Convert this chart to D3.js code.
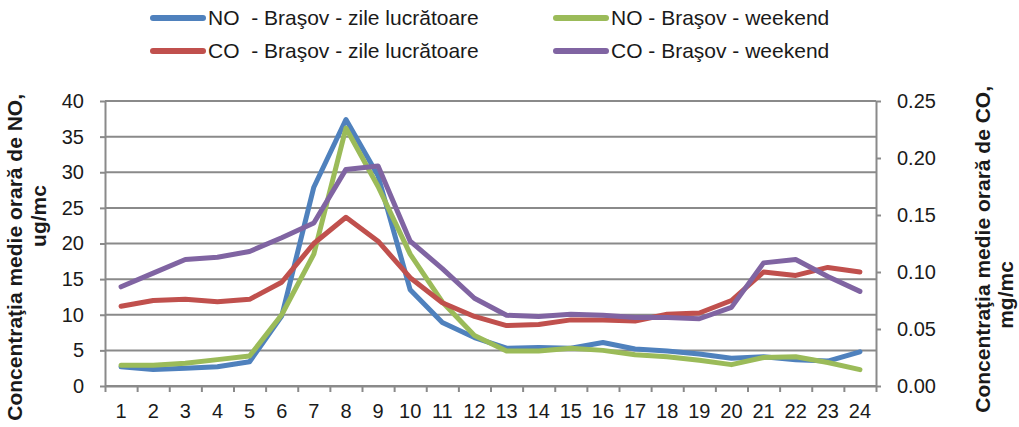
<!DOCTYPE html>
<html>
<head>
<meta charset="utf-8">
<script src="https://cdn.jsdelivr.net/npm/d3@7"></script>
<style>
  body { margin: 0; background: #fff; }
  text { font-family: "Liberation Sans", Arial, sans-serif; fill: #1a1a1a; }
</style>
</head>
<body>
<div class="chart"></div>
<script>
// Concentratii medii orare NO / CO - Brasov

var hours = d3.range(1, 25).map(String);

var noWorkdays = [2.7, 2.3, 2.5, 2.7, 3.4, 9.8, 27.9, 37.4, 29.5, 13.5, 8.9, 6.8, 5.3, 5.4, 5.3, 6.1, 5.2, 4.9, 4.5, 3.9, 4.1, 3.7, 3.5, 4.8];
var noWeekend = [2.9, 2.9, 3.2, 3.7, 4.2, 10.0, 18.5, 36.2, 28.0, 18.5, 11.8, 7.1, 4.9, 4.9, 5.3, 5.0, 4.4, 4.1, 3.6, 3.0, 4.0, 4.1, 3.3, 2.3];
var coWorkdays = [0.070, 0.075, 0.076, 0.074, 0.076, 0.091, 0.125, 0.148, 0.127, 0.095, 0.073, 0.061, 0.053, 0.054, 0.058, 0.058, 0.057, 0.063, 0.064, 0.075, 0.100, 0.097, 0.104, 0.100];
var coWeekend = [0.087, 0.099, 0.111, 0.113, 0.118, 0.130, 0.143, 0.190, 0.193, 0.127, 0.103, 0.077, 0.062, 0.061, 0.063, 0.062, 0.060, 0.060, 0.059, 0.069, 0.108, 0.111, 0.096, 0.083];

var leftTicks = [0, 5, 10, 15, 20, 25, 30, 35, 40];
var rightTicks = [0, 0.05, 0.10, 0.15, 0.20, 0.25];

var seriesNames = [
  "NO  - Braşov - zile lucrătoare",
  "NO - Braşov - weekend",
  "CO  - Braşov - zile lucrătoare",
  "CO - Braşov - weekend"
];
var seriesColors = ["#4F81BD", "#9BBB59", "#C0504D", "#8064A2"];

var svgWidth = 1019;
var svgHeight = 427;
var margin = { top: 101, right: 143, bottom: 41, left: 105 };
var width = svgWidth - margin.left - margin.right;
var height = svgHeight - margin.top - margin.bottom;

var svg = d3.select(".chart")
  .append("svg")
  .attr("width", svgWidth)
  .attr("height", svgHeight);

var chart = svg.append("g")
  .attr("transform", "translate(" + margin.left + "," + margin.top + ")");

var xScale = d3.scaleBand().domain(hours).range([0, width]).padding(0);
var xEdges = d3.scaleLinear().domain([0, 24]).range([0, width]);
var yLeft = d3.scaleLinear().domain([0, 40]).range([height, 0]);
var yRight = d3.scaleLinear().domain([0, 0.25]).range([height, 0]);

var grey = "#8a8a8a";

// gridlines
chart.append("g")
  .selectAll("line")
  .data(leftTicks)
  .enter().append("line")
  .attr("x1", 0)
  .attr("x2", width)
  .attr("y1", function(d) { return yLeft(d); })
  .attr("y2", function(d) { return yLeft(d); })
  .attr("stroke", grey)
  .attr("stroke-width", 2);

// axes
var leftAxis = chart.append("g")
  .call(d3.axisLeft(yLeft).tickValues(leftTicks).tickSize(5).tickSizeOuter(0).tickPadding(16));

var rightAxis = chart.append("g")
  .attr("transform", "translate(" + width + ",0)")
  .call(d3.axisRight(yRight).tickValues(rightTicks).tickSize(5).tickSizeOuter(0).tickPadding(16)
    .tickFormat(d3.format(".2f")));

var edgeAxis = chart.append("g")
  .attr("transform", "translate(0," + height + ")")
  .call(d3.axisBottom(xEdges).tickValues(d3.range(0, 25)).tickSize(6).tickSizeOuter(0).tickFormat(""));

var bottomAxis = chart.append("g")
  .attr("transform", "translate(0," + height + ")")
  .call(d3.axisBottom(xScale).tickSize(0).tickPadding(18));

[leftAxis, rightAxis, edgeAxis, bottomAxis].forEach(function(ax) {
  ax.selectAll("path.domain").attr("stroke", grey).attr("stroke-width", 2);
  ax.selectAll(".tick line").attr("stroke", grey).attr("stroke-width", 2);
  ax.selectAll("text")
    .style("font-family", "'Liberation Sans', Arial, sans-serif")
    .style("font-size", "20px")
    .attr("fill", "#1a1a1a");
});
bottomAxis.select("path.domain").remove();

// lines
var lineLeft = d3.line()
  .x(function(d, i) { return xScale(hours[i]) + xScale.bandwidth() / 2; })
  .y(function(d) { return yLeft(d); });

var lineRight = d3.line()
  .x(function(d, i) { return xScale(hours[i]) + xScale.bandwidth() / 2; })
  .y(function(d) { return yRight(d); });

var seriesList = [
  { values: noWorkdays, line: lineLeft, color: seriesColors[0] },
  { values: noWeekend, line: lineLeft, color: seriesColors[1] },
  { values: coWorkdays, line: lineRight, color: seriesColors[2] },
  { values: coWeekend, line: lineRight, color: seriesColors[3] }
];

seriesList.forEach(function(s) {
  chart.append("path")
    .datum(s.values)
    .attr("d", s.line)
    .attr("fill", "none")
    .attr("stroke", s.color)
    .attr("stroke-width", 5)
    .attr("stroke-linejoin", "round")
    .attr("stroke-linecap", "round");
});

// legend
var legendPos = [[150, 18], [553, 18], [150, 51], [553, 51]];

var legend = svg.append("g");
seriesNames.forEach(function(name, i) {
  var p = legendPos[i];
  legend.append("line")
    .attr("x1", p[0] + 3)
    .attr("x2", p[0] + 53)
    .attr("y1", p[1])
    .attr("y2", p[1])
    .attr("stroke", seriesColors[i])
    .attr("stroke-width", 6)
    .attr("stroke-linecap", "round");
  legend.append("text")
    .attr("x", p[0] + 58)
    .attr("y", p[1])
    .attr("dy", "0.35em")
    .style("font-size", "21px")
    .style("white-space", "pre")
    .text(name);
});

// axis titles
svg.append("text")
  .attr("transform", "translate(22,94) rotate(-90)")
  .attr("text-anchor", "end")
  .style("font-size", "21px")
  .style("font-weight", "bold")
  .attr("fill", "#000")
  .text("Concentraţia medie orară de NO,");

svg.append("text")
  .attr("transform", "translate(46,216) rotate(-90)")
  .attr("text-anchor", "middle")
  .style("font-size", "21px")
  .style("font-weight", "bold")
  .attr("fill", "#000")
  .text("ug/mc");

svg.append("text")
  .attr("transform", "translate(990,86) rotate(-90)")
  .attr("text-anchor", "end")
  .style("font-size", "21px")
  .style("font-weight", "bold")
  .attr("fill", "#000")
  .text("Concentraţia medie orară de CO,");

svg.append("text")
  .attr("transform", "translate(1013,295) rotate(-90)")
  .attr("text-anchor", "middle")
  .style("font-size", "21px")
  .style("font-weight", "bold")
  .attr("fill", "#000")
  .text("mg/mc");
</script>
</body>
</html>
